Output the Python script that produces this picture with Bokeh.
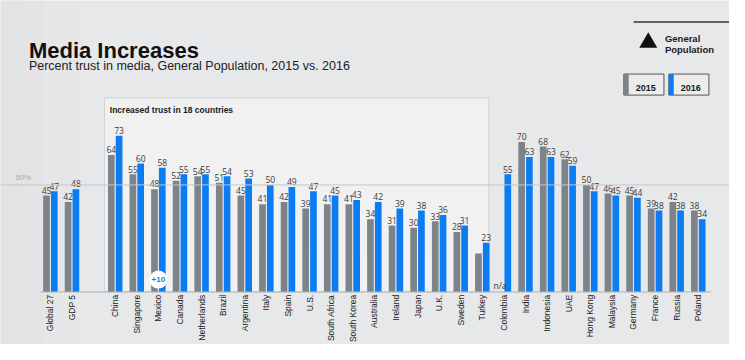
import math
from bokeh.plotting import figure
from bokeh.models import Span, Label, ColumnDataSource
from bokeh.core.properties import value
from bokeh.embed import file_html
from bokeh.resources import INLINE

# ---------------- data ----------------
categories = ["Global 27", "GDP 5",
              "China", "Singapore", "Mexico", "Canada", "Netherlands", "Brazil",
              "Argentina", "Italy", "Spain", "U.S.", "South Africa", "South Korea",
              "Australia", "Ireland", "Japan", "U.K.", "Sweden", "Turkey",
              "Colombia", "India", "Indonesia", "UAE", "Hong Kong", "Malaysia",
              "Germany", "France", "Russia", "Poland"]
positions = [0, 1] + list(range(3, 31))
trust_2015 = [45, 42,
              64, 55, 48, 52, 54, 51, 45, 41, 42, 39, 41, 41, 34, 31, 30, 33, 28, 18,
              None, 70, 68, 62, 50, 46, 45, 39, 42, 38]
trust_2016 = [47, 48,
              73, 60, 58, 55, 55, 54, 53, 50, 49, 47, 45, 43, 42, 39, 38, 36, 31, 23,
              55, 63, 63, 59, 47, 45, 44, 38, 38, 34]
hidden_2015_labels = ["Turkey"]
series_names = ["2015", "2016"]
box_title = "Increased trust in 18 countries"
box_first, box_last = "China", "Turkey"
callout_country, callout_text = "Mexico", "+10"
reference_level = 50

# ---------------- geometry (reference-picture pixels -> data) ----------------
W, H = 729, 344
PX_X = 22.07          # ref px per category step
X0_REF = 51.0         # ref px of category 0
PX_Y = 2.24           # ref px per percent
BASE_REF = 305.0      # ref px of 0%

def rx(ref_x):
    return (ref_x - X0_REF) / PX_X

def ry(ref_y):
    return (BASE_REF - ref_y) / PX_Y

x_start, x_end = rx(0), rx(745)
y_start, y_end = ry(360), ry(0)

GRAY = "#7c8489"
BLUE = "#0b7cf2"
BG = "#e7e8ea"
FONT = "Liberation Sans"

p = figure(width=W, height=H, output_backend="svg", toolbar_location=None,
           x_range=(x_start, x_end), y_range=(y_start, y_end),
           x_axis_location=None, y_axis_location=None,
           min_border_left=0, min_border_right=0, min_border_top=0, min_border_bottom=0)
p.background_fill_color = BG
p.border_fill_color = BG
p.outline_line_color = None
p.xgrid.visible = False
p.ygrid.visible = False

# soft left-side shading of the backdrop
for i, c in enumerate(["#d9dbdd", "#dddfe1", "#e1e2e4", "#e4e5e7"]):
    p.quad(left=x_start, right=rx(22 * (i + 1)), bottom=y_start, top=y_end,
           fill_color=c, fill_alpha=0.35, line_color=None)

# highlight box
idx_first = categories.index(box_first)
idx_last = categories.index(box_last)
p.quad(left=positions[idx_first] - 0.5, right=positions[idx_last] + 0.3,
       bottom=0, top=ry(102), fill_color="#f1f1f2", line_color="#d2d3d5", line_width=1)
p.add_layout(Label(x=positions[idx_first] - 0.25, y=ry(115), text=box_title,
                   text_font=FONT, text_font_size="8.5px", text_font_style="bold",
                   text_color="#1a1a1a", text_baseline="alphabetic"))

# 50% reference line
p.add_layout(Span(location=reference_level, dimension="width",
                  line_color="#c6c7c9", line_width=1))
p.add_layout(Label(x=rx(15), y=reference_level + 1.5, text=f"{reference_level}%",
                   text_font=FONT, text_font_size="8px", text_color="#a9abad",
                   text_baseline="bottom"))

# bars
nan = float("nan")
v15 = [nan if v is None else v for v in trust_2015]
src = ColumnDataSource(dict(
    x15=[x - 0.18 for x in positions],
    x16=[x + 0.18 for x in positions],
    v15=v15,
    v16=trust_2016,
))
p.vbar(x="x15", top="v15", width=0.31, bottom=0, source=src,
       fill_color=GRAY, line_color=None)
p.vbar(x="x16", top="v16", width=0.31, bottom=0, source=src,
       fill_color=BLUE, line_color=None)

# baseline
p.segment(x0=positions[0] - 0.45, x1=positions[-1] + 0.6, y0=0, y1=0,
          line_color="#aeb2b6", line_width=1)

# value labels
lab15_x, lab15_y, lab15_t = [], [], []
for c, x, v in zip(categories, positions, trust_2015):
    if c in hidden_2015_labels:
        continue
    lab15_x.append(x - 0.18)
    if v is None:
        lab15_y.append(0.6)
        lab15_t.append("n/a")
    else:
        lab15_y.append(v + 0.8)
        lab15_t.append(str(v))
p.text(x=lab15_x, y=lab15_y, text=lab15_t, text_font=value("Open Sans"),
       text_font_size="8.5px", text_color="#3a3a3a", text_align="center",
       text_baseline="bottom")
p.text(x=[x + 0.18 for x in positions], y=[v + 0.8 for v in trust_2016],
       text=[str(v) for v in trust_2016], text_font=value("Open Sans"),
       text_font_size="8.5px", text_color="#3a3a3a", text_align="center",
       text_baseline="bottom")

# category labels (rotated, reading upward, ending just under the baseline)
p.text(x=positions, y=[ry(308)] * len(positions), text=categories, angle=math.pi / 2,
       text_font=value(FONT), text_font_size="8.5px", text_color="#222222",
       text_align="right", text_baseline="middle")

# callout
ci = positions[categories.index(callout_country)]
p.scatter(x=[ci], y=[ry(292)], size=18, marker="circle", fill_color="white",
          line_color=None)
p.text(x=[ci], y=[ry(292)], text=[callout_text], text_font=value(FONT),
       text_font_size="8px", text_font_style="bold", text_color=BLUE,
       text_align="center", text_baseline="middle")

# titles
p.add_layout(Label(x=rx(29), y=ry(52), text="Media Increases", text_font=FONT,
                   text_font_size="22px", text_font_style="bold",
                   text_color="#111111", text_baseline="alphabetic"))
p.add_layout(Label(x=rx(29), y=ry(69),
                   text="Percent trust in media, General Population, 2015 vs. 2016",
                   text_font=FONT, text_font_size="12.5px", text_color="#222222",
                   text_baseline="alphabetic"))

# top-right decoration
p.segment(x0=rx(647), x1=x_end, y0=ry(22.5), y1=ry(22.5), line_color="#333333",
          line_width=1.5)
p.scatter(x=[rx(662)], y=[ry(44)], size=18, marker="triangle", fill_color="#111111",
          line_color=None)
p.add_layout(Label(x=rx(679), y=ry(40), text="General", text_font=FONT,
                   text_font_size="9.5px", text_font_style="bold",
                   text_color="#1a1a1a", text_baseline="alphabetic"))
p.add_layout(Label(x=rx(679), y=ry(51), text="Population", text_font=FONT,
                   text_font_size="9.5px", text_font_style="bold",
                   text_color="#1a1a1a", text_baseline="alphabetic"))

# legend boxes
for name, (l, r), col in zip(series_names, [(637, 678), (683, 724)], [GRAY, BLUE]):
    p.quad(left=rx(l), right=rx(r), bottom=ry(99), top=ry(77), fill_color="#ececed",
           line_color="#555555", line_width=1)
    p.quad(left=rx(l), right=rx(l + 5), bottom=ry(99), top=ry(77), fill_color=col,
           line_color=None)
    p.add_layout(Label(x=rx((l + r) / 2 + 2), y=ry(92), text=name, text_font=FONT,
                       text_font_size="9px", text_font_style="bold",
                       text_color="#1a1a1a", text_align="center",
                       text_baseline="alphabetic"))

open("out.html", "w").write(file_html(p, INLINE))
